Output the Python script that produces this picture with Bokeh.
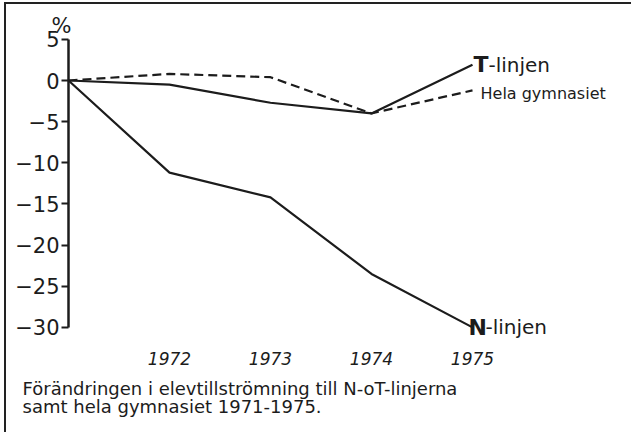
from bokeh.plotting import figure
from bokeh.models import Range1d, FixedTicker, Label
from bokeh.embed import file_html
from bokeh.resources import INLINE

# Data (percent change in student intake, relative to 1971)
years = [1971, 1972, 1973, 1974, 1975]
n_linjen = [0, -11.2, -14.2, -23.5, -30.0]
t_linjen = [0, -0.5, -2.7, -4.0, 1.9]
hela_gymnasiet = [0, 0.8, 0.4, -4.0, -1.2]
x_tick_years = [1972, 1973, 1974, 1975]
y_ticks = [5, 0, -5, -10, -15, -20, -25, -30]
caption_lines = ["Förändringen i elevtillströmning till N-oT-linjerna",
                 "samt hela gymnasiet 1971-1975."]

INK = "#1c1c1c"
FONT = "DejaVu Sans"
PX_X = 101.0   # pixels per year
PX_Y = 8.23    # pixels per percent

p = figure(width=627, height=430, output_backend="svg", toolbar_location=None,
           x_range=Range1d(1971 - 62 / PX_X, 1971 + 565 / PX_X),
           y_range=Range1d(-354 / PX_Y, 76 / PX_Y),
           min_border_left=0, min_border_right=0, min_border_top=0,
           min_border_bottom=0, background_fill_color="white",
           border_fill_color="white", outline_line_color=None)
p.styles = {"border-top": "2px solid #222", "border-left": "2px solid #222",
            "margin-left": "4px", "margin-top": "2px"}
p.grid.visible = False

# y axis, drawn at 1971
ya = p.yaxis[0]
ya.fixed_location = years[0]
ya.ticker = FixedTicker(ticks=y_ticks)
ya.bounds = (-30, 5)
ya.axis_line_color = INK
ya.axis_line_width = 2.5
ya.major_tick_line_color = INK
ya.major_tick_line_width = 2
ya.major_tick_out = 7
ya.major_tick_in = 0
ya.minor_tick_line_color = None
ya.major_label_standoff = 2
ya.major_label_text_font = FONT
ya.major_label_text_font_size = "21px"
ya.major_label_text_color = INK

# x axis: labels only, just under the -30 level
xa = p.xaxis[0]
xa.fixed_location = -255 / PX_Y
xa.ticker = FixedTicker(ticks=x_tick_years)
xa.axis_line_color = None
xa.major_tick_line_color = None
xa.minor_tick_line_color = None
xa.major_label_standoff = 10
xa.major_label_text_font = FONT
xa.major_label_text_font_style = "italic"
xa.major_label_text_font_size = "17px"
xa.major_label_text_color = INK

# lines
p.line(years, n_linjen, line_color=INK, line_width=2.2)
p.line(years, t_linjen, line_color=INK, line_width=2.2)
p.line(years, hela_gymnasiet, line_color=INK, line_width=2.2, line_dash="9 5")

def add_label(x, y, text, size, bold=False, x_off=0, y_off=0, align="left"):
    p.add_layout(Label(x=x, y=y, text=text, x_offset=x_off, y_offset=y_off,
                       text_font=FONT, text_font_size=size,
                       text_font_style="bold" if bold else "normal",
                       text_color=INK, text_align=align, text_baseline="middle"))

# series labels at the 1975 end points
add_label(years[-1], t_linjen[-1], "T", "22px", bold=True, x_off=1)
add_label(years[-1], t_linjen[-1], "-linjen", "20px", x_off=16)
add_label(years[-1], hela_gymnasiet[-1], "Hela gymnasiet", "16px", x_off=8, y_off=-3)
add_label(years[-1], n_linjen[-1], "N", "22px", bold=True, x_off=-4)
add_label(years[-1], n_linjen[-1], "-linjen", "20px", x_off=13)

# percent sign above the y axis
add_label(years[0] - 7 / PX_X, 55 / PX_Y, "%", "21px", align="center")

# caption
cap_x = years[0] - 46 / PX_X
add_label(cap_x, -308 / PX_Y, caption_lines[0], "18px")
add_label(cap_x, -326 / PX_Y, caption_lines[1], "18px")

open("out.html", "w").write(file_html(p, INLINE))
